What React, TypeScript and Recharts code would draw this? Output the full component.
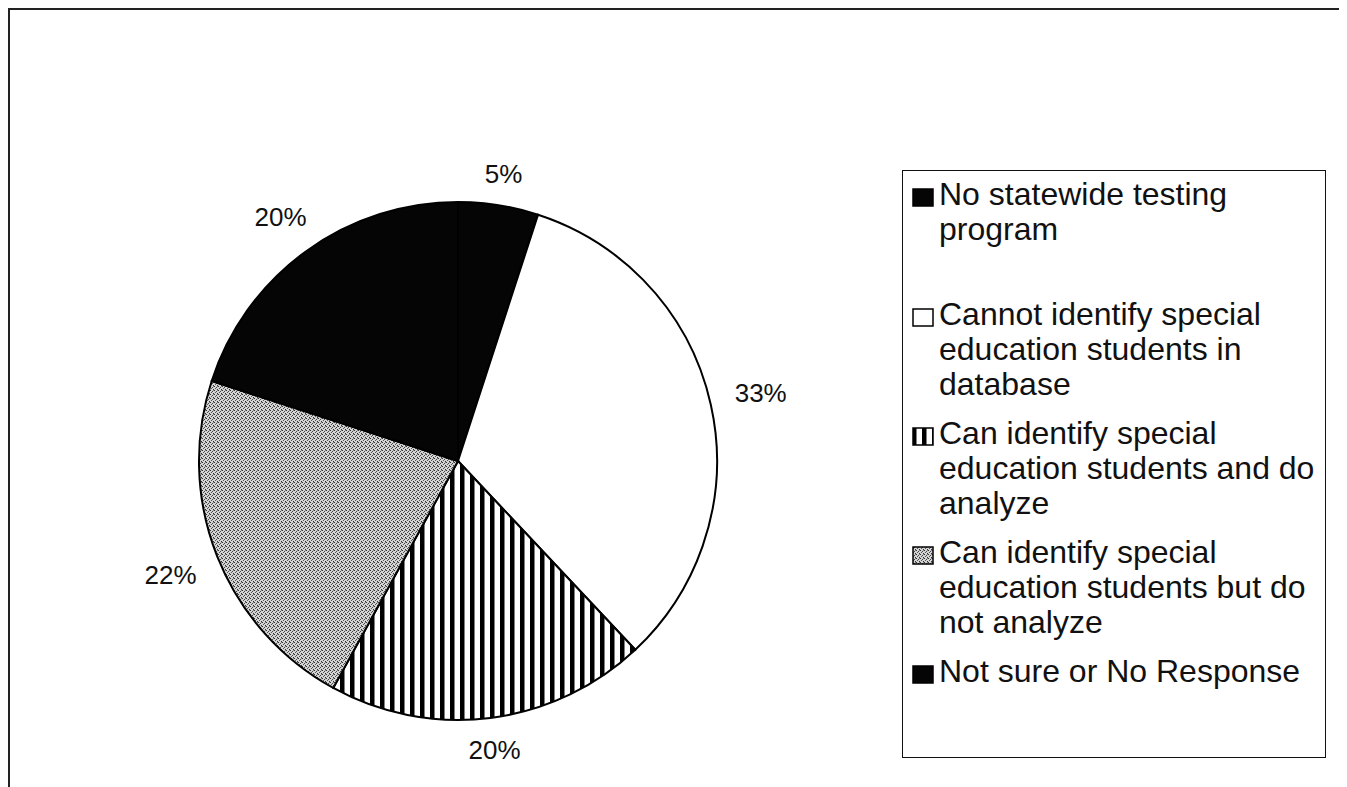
import React from "react";
import { PieChart, Pie, Cell, Legend } from "recharts";

const categories = [
  "No statewide testing program",
  "Cannot identify special education students in database",
  "Can identify special education students and do analyze",
  "Can identify special education students but do not analyze",
  "Not sure or No Response",
];
const shares = [5, 33, 20, 22, 20];
const fills = ["#050505", "#ffffff", "url(#vstripes)", "url(#grain)", "#050505"];

const data = categories.map((name, i) => ({ name, value: shares[i] }));

const FONT = "'Liberation Sans', Arial, Helvetica, sans-serif";
const RAD = Math.PI / 180;

const renderLabel = (props: any) => {
  const { cx, cy, midAngle, outerRadius, value } = props;
  const dx = Math.cos(-midAngle * RAD);
  const dy = Math.sin(-midAngle * RAD);
  const text = `${value}%`;
  const halfW = text.length * 13.2 * 0.5 * 1.35;
  const r = outerRadius + 30 + Math.abs(dx) * (halfW - 5);
  return (
    <text
      x={cx + r * dx}
      y={cy + r * dy}
      textAnchor="middle"
      dominantBaseline="central"
      fontFamily={FONT}
      fontSize={26}
      fill="#111"
    >
      {text}
    </text>
  );
};

const LegendBox = (props: any) => {
  const { payload } = props;
  return (
    <div
      style={{
        width: "100%",
        height: "100%",
        boxSizing: "border-box",
        border: "1.5px solid #111",
        paddingTop: 6,
        fontFamily: FONT,
        fontSize: 32,
        lineHeight: "35px",
        color: "#111",
      }}
    >
      {(payload || []).map((entry: any, i: number) => (
        <div
          key={i}
          style={{
            position: "relative",
            paddingLeft: 36,
            width: 392,
            marginTop: i === 0 ? 0 : i === 1 ? 50 : 14,
          }}
        >
          <svg
            width={22}
            height={19}
            style={{ position: "absolute", left: 9, top: 11 }}
          >
            <rect
              x={1}
              y={1}
              width={20}
              height={17}
              fill={fills[i]}
              stroke="#000"
              strokeWidth={1.5}
            />
          </svg>
          {categories[i]}
        </div>
      ))}
    </div>
  );
};

export default function App() {
  return (
    <div
      style={{
        position: "relative",
        width: 1331,
        height: 778,
        border: "2px solid #222",
        background: "#fff",
      }}
    >
      <PieChart
        width={1331}
        height={778}
        margin={{ top: 0, right: 0, bottom: 0, left: 0 }}
      >
        <defs>
          <pattern id="vstripes" patternUnits="userSpaceOnUse" width={10} height={10}>
            <rect x={0} y={0} width={10} height={10} fill="#fff" />
            <rect x={0} y={0} width={4.5} height={10} fill="#000" />
          </pattern>
          <pattern id="grain" patternUnits="userSpaceOnUse" width={4} height={4}>
            <rect x={0} y={0} width={4} height={4} fill="#d4d4d4" />
            <rect x={0} y={0} width={1} height={1} fill="#333" />
            <rect x={2} y={1} width={1} height={1} fill="#444" />
            <rect x={1} y={2} width={1} height={1} fill="#555" />
            <rect x={3} y={3} width={1} height={1} fill="#333" />
            <rect x={3} y={0} width={1} height={1} fill="#888" />
          </pattern>
        </defs>
        <Pie
          data={data}
          dataKey="value"
          nameKey="name"
          cx={448}
          cy={451}
          outerRadius={259}
          startAngle={90}
          endAngle={-270}
          stroke="#000"
          strokeWidth={2}
          label={renderLabel}
          labelLine={false}
          isAnimationActive={false}
        >
          {data.map((d, i) => (
            <Cell key={d.name} fill={fills[i]} />
          ))}
        </Pie>
        <Legend
          content={<LegendBox />}
          wrapperStyle={{
            position: "absolute",
            left: 892,
            top: 160,
            width: 424,
            height: 588,
          }}
        />
      </PieChart>
    </div>
  );
}
